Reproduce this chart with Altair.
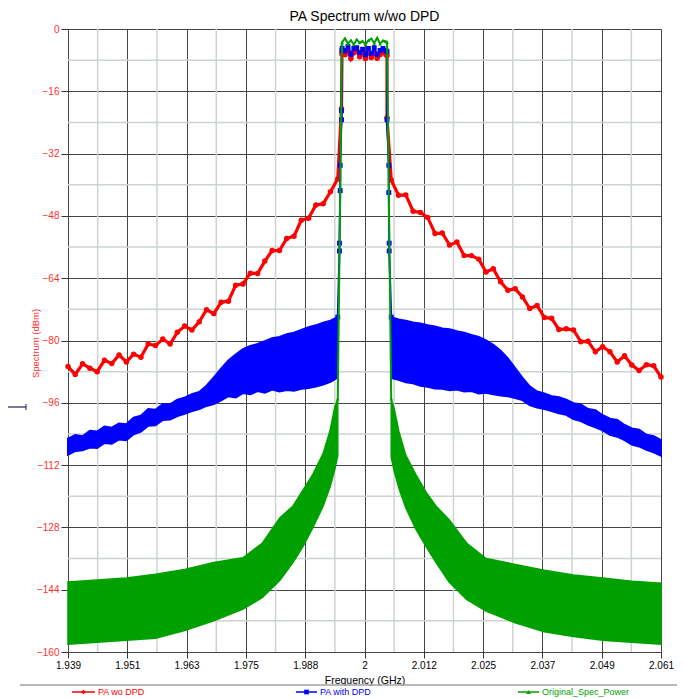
import altair as alt
import pandas as pd

FONT = "Liberation Sans"

# ---------------- text ----------------
title_text = "PA Spectrum w/wo DPD"
x_title = "Frequency (GHz)"
y_title = "Spectrum (dBm)"
legend_labels = ["PA wo DPD", "PA with DPD", "Original_Spec_Power"]
series_colors = ["#ff0000", "#0000ff", "#00a000"]
legend_shapes = ["diamond", "square", "triangle-up"]

# ---------------- axes ----------------
x_ticks = [1.939, 1.9512, 1.9634, 1.9756, 1.9878, 2.0, 2.0122, 2.0244, 2.0366, 2.0488, 2.061]
x_tick_labels = ["1.939", "1.951", "1.963", "1.975", "1.988", "2", "2.012", "2.025", "2.037", "2.049", "2.061"]
y_ticks = [-160, -144, -128, -112, -96, -80, -64, -48, -32, -16, 0]
y_minor = [-152, -136, -120, -104, -88, -72, -56, -40, -24, -8]

# ---------------- frequency sample grids (GHz) ----------------
left_f = [1.939, 1.9405, 1.942, 1.9435, 1.945, 1.9465, 1.948, 1.9495, 1.951, 1.9525,
          1.954, 1.9555, 1.957, 1.9585, 1.960, 1.9615, 1.963, 1.9645, 1.966, 1.9675,
          1.969, 1.9705, 1.972, 1.9735, 1.975, 1.9765, 1.978, 1.9795, 1.981, 1.9825,
          1.984, 1.9855, 1.987, 1.9885, 1.990, 1.9915, 1.993, 1.9945]
right_f = [2.0055, 2.007, 2.0085, 2.010, 2.0115, 2.013, 2.0145, 2.016, 2.0175, 2.019,
           2.0205, 2.022, 2.0235, 2.025, 2.0265, 2.028, 2.0295, 2.031, 2.0325, 2.034,
           2.0355, 2.037, 2.0385, 2.040, 2.0415, 2.043, 2.0445, 2.046, 2.0475, 2.049,
           2.0505, 2.052, 2.0535, 2.055, 2.0565, 2.058, 2.0595, 2.061]
band_f = [1.9954, 1.9960, 1.9966, 1.9972, 1.9978, 1.9984, 1.9990, 1.9996,
          2.0002, 2.0008, 2.0014, 2.0020, 2.0026, 2.0032, 2.0038, 2.0044]

# ---------------- PA wo DPD (red) ----------------
red_left = [-86.7, -88.7, -86.0, -87.1, -88.0, -85.1, -85.9, -83.7, -85.5, -83.5,
            -84.3, -80.9, -81.3, -79.6, -80.9, -77.9, -76.3, -77.3, -75.2, -72.1,
            -73.1, -70.2, -69.9, -65.8, -65.5, -62.7, -62.8, -59.6, -56.9, -56.9,
            -53.8, -53.2, -49.1, -48.6, -45.2, -44.9, -41.8, -38.5]
red_right = [-38.8, -42.7, -42.6, -46.8, -47.1, -48.4, -52.5, -52.4, -55.5, -54.7,
             -58.2, -58.2, -59.1, -62.4, -61.6, -64.9, -67.1, -66.7, -68.8, -71.8,
             -71.0, -74.1, -74.3, -77.2, -77.0, -77.3, -80.3, -80.2, -82.9, -81.6,
             -82.9, -85.5, -83.9, -86.3, -87.7, -86.2, -86.5, -89.4]
red_band = [-6.0, -6.6, -5.4, -7.6, -6.1, -5.6, -7.1, -6.3, -7.6, -6.0, -7.3, -6.1, -7.5, -6.6, -6.0, -6.6]
red_edge_left_f = [1.99527, 1.99537]
red_edge_left = [-20.5, -6.5]
red_edge_right_f = [2.00463, 2.00463]
red_edge_right = [-6.8, -22.8]

# ---------------- PA with DPD (blue) ----------------
blue_left_hi = [-105.2, -104.3, -104.6, -103.2, -103.4, -102.1, -102.4, -101.3, -101.5, -99.8,
                -99.3, -97.6, -97.8, -96.3, -96.4, -95.2, -94.7, -93.8, -93.2, -91.6,
                -89.5, -87.2, -85.1, -83.6, -82.2, -81.4, -80.9, -80.2, -79.4, -79.1,
                -78.4, -78.0, -77.3, -76.6, -76.1, -75.4, -74.9, -74.0]
blue_left_lo = [-109.3, -108.4, -108.2, -107.5, -107.6, -106.3, -106.5, -105.4, -105.6, -104.1,
                -103.4, -101.9, -101.8, -100.4, -100.3, -99.4, -98.8, -98.1, -97.6, -96.8,
                -96.3, -95.4, -94.3, -94.6, -93.5, -93.8, -93.0, -93.4, -92.6, -93.1,
                -92.7, -92.9, -92.4, -92.2, -91.8, -91.3, -90.6, -89.5]
blue_right_hi = [-74.0, -74.6, -74.9, -75.4, -75.6, -76.1, -76.4, -76.9, -77.1, -77.6,
                 -78.0, -78.6, -79.1, -80.0, -81.1, -82.6, -84.6, -87.1, -89.6, -91.8,
                 -93.1, -93.6, -94.3, -94.6, -95.2, -96.1, -96.4, -97.6, -97.9, -99.2,
                 -100.1, -100.4, -101.7, -102.6, -102.9, -104.2, -104.6, -105.6]
blue_right_lo = [-89.6, -90.1, -90.7, -91.0, -91.6, -91.9, -92.3, -92.4, -92.8, -92.6,
                 -93.1, -93.0, -93.6, -93.4, -93.8, -94.1, -94.3, -94.8, -95.3, -96.6,
                 -97.2, -97.6, -98.1, -98.7, -99.1, -100.2, -100.7, -101.6, -102.3, -103.1,
                 -104.2, -104.7, -105.6, -106.7, -107.2, -108.1, -108.7, -109.6]
blue_band = [-5.0, -5.6, -4.5, -6.5, -5.0, -4.8, -6.1, -5.2, -6.6, -5.0, -6.3, -4.8, -6.5, -5.5, -5.0, -5.5]
blue_edge_left_f = [1.9945, 1.99485, 1.99485, 1.99500, 1.99500, 1.99527, 1.99527, 1.99537]
blue_edge_left = [-74.0, -57.0, -55.0, -41.5, -35.0, -23.3, -21.0, -5.5]
blue_edge_right_f = [2.00463, 2.00463, 2.00500, 2.00500, 2.00508, 2.00508, 2.0055]
blue_edge_right = [-5.8, -23.3, -35.0, -42.0, -55.0, -57.0, -74.0]

# ---------------- Original_Spec_Power (green) ----------------
green_left_f = [1.939, 1.945, 1.951, 1.957, 1.963, 1.969, 1.975, 1.979, 1.9826, 1.9853,
                1.9873, 1.9894, 1.9915, 1.9929, 1.9939, 1.9945]
green_left_hi = [-142.0, -141.5, -141.0, -140.0, -138.8, -137.0, -135.8, -132.0, -125.5, -122.5,
                 -118.5, -114.3, -109.0, -103.2, -97.0, -95.0]
green_left_lo = [-158.0, -157.5, -157.0, -156.5, -154.5, -152.0, -149.0, -146.0, -141.6, -137.0,
                 -133.0, -128.0, -122.5, -117.7, -113.0, -109.6]
green_right_f = [2.0055, 2.0061, 2.0071, 2.0085, 2.0106, 2.0127, 2.0147, 2.0174, 2.021, 2.025,
                 2.031, 2.037, 2.043, 2.049, 2.055, 2.061]
green_right_hi = [-95.0, -97.5, -103.5, -109.5, -114.5, -119.0, -122.5, -126.0, -132.0, -136.0,
                  -137.5, -139.0, -140.2, -141.0, -141.8, -142.3]
green_right_lo = [-110.0, -113.5, -118.0, -123.0, -128.5, -133.0, -137.0, -142.0, -146.5, -149.5,
                  -152.5, -154.8, -156.0, -157.0, -157.5, -158.0]
green_band = [-3.4, -2.4, -3.8, -2.9, -4.0, -2.7, -3.5, -3.1, -4.0, -2.9, -2.5, -3.6, -2.3, -3.8, -3.0, -3.2]
green_edge_left_f = [1.9945, 1.99537]
green_edge_left = [-95.0, -3.8]
green_edge_right_f = [2.00463, 2.0055]
green_edge_right = [-3.4, -95.0]

# ---------------- tables ----------------
def line_df(fs, vs):
    return pd.DataFrame({"f": fs, "v": vs, "o": list(range(len(fs)))})

def band_df(fs, hi, lo):
    return pd.DataFrame({"f": fs, "hi": hi, "lo": lo})

red_df = line_df(left_f + red_edge_left_f + band_f + red_edge_right_f + right_f,
                 red_left + red_edge_left + red_band + red_edge_right + red_right)
blue_core_df = line_df(blue_edge_left_f + band_f + blue_edge_right_f,
                       blue_edge_left + blue_band + blue_edge_right)
green_core_df = line_df(green_edge_left_f + band_f + green_edge_right_f,
                        green_edge_left + green_band + green_edge_right)
blue_l = band_df(left_f, blue_left_hi, blue_left_lo)
blue_r = band_df(right_f, blue_right_hi, blue_right_lo)
green_l = band_df(green_left_f, green_left_hi, green_left_lo)
green_r = band_df(green_right_f, green_right_hi, green_right_lo)

x_minor = [(a + b) / 2 for a, b in zip(x_ticks[:-1], x_ticks[1:])]

# ---------------- scales / axes ----------------
W, H = 593, 623
x_scale = alt.Scale(domain=[x_ticks[0], x_ticks[-1]], nice=False, zero=False)
y_scale = alt.Scale(domain=[y_ticks[0], y_ticks[-1]], nice=False, zero=False)
step = x_ticks[1] - x_ticks[0]
label_expr = "[" + ",".join("'%s'" % t for t in x_tick_labels) + "][round((datum.value-%s)/%s)]" % (x_ticks[0], step)

x_axis = alt.Axis(values=x_ticks, labelExpr=label_expr, grid=True, gridColor="#444444", gridWidth=1,
                  domain=False, ticks=True, tickColor="#333333", tickSize=6, labelFont=FONT,
                  labelFontSize=10, labelColor="#000000", labelPadding=2, labelFlush=False,
                  title=x_title, titleFont=FONT, titleFontSize=10.5, titleFontWeight="normal",
                  titleColor="#000000", titleY=28, titleBaseline="middle")
y_axis = alt.Axis(values=y_ticks, grid=True, gridColor="#444444", gridWidth=1, domain=False,
                  ticks=True, tickColor="#333333", tickSize=7, labelFont=FONT, labelFontSize=10,
                  labelColor="#ff3030", labelPadding=2, labelFlush=False, title=y_title,
                  titleFont=FONT, titleFontSize=9.5, titleFontWeight="normal", titleColor="#ff3030",
                  titleX=-33, titleY=314, titleAngle=270, titleAlign="center", titleBaseline="middle")

X = alt.X("f:Q", scale=x_scale, axis=x_axis)
Y = alt.Y("v:Q", scale=y_scale, axis=y_axis)
YH = alt.Y("hi:Q", scale=y_scale, axis=y_axis)

MINOR = "#cdd3d3"
layers = []
layers.append(alt.Chart(pd.DataFrame({"f": x_minor})).mark_rule(color=MINOR, strokeWidth=1.5).encode(x=X))
layers.append(alt.Chart(pd.DataFrame({"v": y_minor})).mark_rule(color=MINOR, strokeWidth=1.5).encode(y=Y))

RED, BLUE, GREEN = series_colors
# red
layers.append(alt.Chart(red_df).mark_line(color=RED, strokeWidth=3.2).encode(x=X, y=Y, order="o:Q"))
layers.append(alt.Chart(red_df).mark_point(shape="circle", filled=True, size=30, color=RED, opacity=1).encode(x=X, y=Y))
# blue
for d in (blue_l, blue_r):
    layers.append(alt.Chart(d).mark_area(color=BLUE, stroke=BLUE, strokeWidth=2, opacity=1)
                  .encode(x=X, y=YH, y2="lo:Q"))
layers.append(alt.Chart(blue_core_df).mark_line(color=BLUE, strokeWidth=2).encode(x=X, y=Y, order="o:Q"))
layers.append(alt.Chart(blue_core_df).mark_point(shape="square", filled=True, size=24, color=BLUE, opacity=1).encode(x=X, y=Y))
# green
for d in (green_l, green_r):
    layers.append(alt.Chart(d).mark_area(color=GREEN, stroke=GREEN, strokeWidth=1.5, opacity=1)
                  .encode(x=X, y=YH, y2="lo:Q"))
layers.append(alt.Chart(green_core_df).mark_line(color=GREEN, strokeWidth=2).encode(x=X, y=Y, order="o:Q"))
layers.append(alt.Chart(green_core_df).mark_point(shape="triangle-up", filled=True, size=14, color=GREEN, opacity=1).encode(x=X, y=Y))

# ---------------- bottom legend (drawn) ----------------
LEG_Y = 663
leg_line_x = [(4, 27), (228, 249), (450, 471)]
leg_text_x = [30, 252, 474]
layers.append(alt.Chart(pd.DataFrame({"a": [0]})).mark_rule(color="#a0a0a0", strokeWidth=1.5)
              .encode(x=alt.value(-48), x2=alt.value(617), y=alt.value(656)))
for lab, col, shp, (x0, x1), tx in zip(legend_labels, series_colors, legend_shapes, leg_line_x, leg_text_x):
    one = pd.DataFrame({"label": [lab]})
    layers.append(alt.Chart(one).mark_rule(color=col, strokeWidth=1.5)
                  .encode(x=alt.value(x0), x2=alt.value(x1), y=alt.value(LEG_Y)))
    layers.append(alt.Chart(one).mark_point(shape=shp, filled=True, size=22, color=col, opacity=1)
                  .encode(x=alt.value((x0 + x1) / 2), y=alt.value(LEG_Y)))
    layers.append(alt.Chart(one).mark_text(align="left", baseline="middle", font=FONT, fontSize=9, color=col)
                  .encode(x=alt.value(tx), y=alt.value(LEG_Y), text="label:N"))

# small stray marker on the left edge
layers.append(alt.Chart(pd.DataFrame({"a": [0]})).mark_rule(color="#202060", strokeWidth=1.2)
              .encode(x=alt.value(-60), x2=alt.value(-42), y=alt.value(378)))
layers.append(alt.Chart(pd.DataFrame({"a": [0]})).mark_rule(color="#202060", strokeWidth=1)
              .encode(x=alt.value(-42), y=alt.value(375), y2=alt.value(381)))

chart = alt.layer(*layers).properties(
    width=W, height=H,
    title=alt.TitleParams(title_text, font=FONT, fontSize=14, fontWeight="normal", color="#000000",
                          anchor="middle", frame="group", offset=0),
    autosize=alt.AutoSizeParams(type="none"),
    padding={"left": 60, "top": 21, "right": 16, "bottom": 46},
).configure_view(fill="#eef6f5", stroke="#808080", strokeWidth=2).configure(background="#ffffff")

chart.save("out.html", embed_options={"renderer": "svg", "actions": False})
